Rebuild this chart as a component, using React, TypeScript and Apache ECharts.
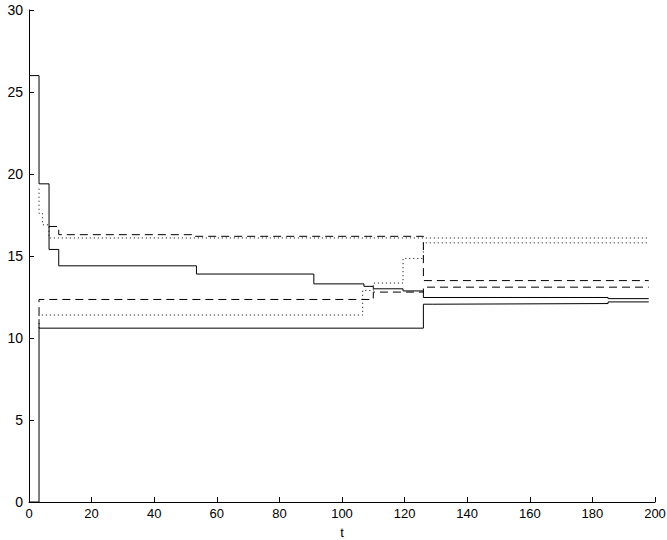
import React, { useEffect, useRef } from "react";
import * as echarts from "echarts";

// Step breakpoints: value v[i] holds from t[i] until t[i+1]
const upperSolidT = [0, 3.2, 6.4, 9.5, 53.5, 91, 107, 110, 119.5, 126, 185, 198];
const upperSolidV = [26, 19.4, 15.4, 14.4, 13.9, 13.3, 13.15, 13.0, 12.87, 12.47, 12.4, 12.4];

const upperDottedT = [3.2, 3.2, 4.3, 6.4, 198];
const upperDottedV = [19.1, 17.6, 16.9, 16.1, 16.1];

const upperDashedT = [6.4, 9.5, 53, 126, 198];
const upperDashedV = [16.8, 16.3, 16.2, 13.5, 13.5];

const lowerSolidT = [0, 3.2, 126, 129, 185, 198];
const lowerSolidV = [0, 10.6, 12.06, 12.1, 12.2, 12.2];

const lowerDottedT = [3.2, 3.2, 106.6, 110, 119.5, 126, 198];
const lowerDottedV = [10.6, 11.4, 12.9, 13.35, 14.85, 15.8, 15.8];

const lowerDashedT = [3.2, 3.2, 110, 126, 198];
const lowerDashedV = [10.6, 12.35, 12.8, 13.1, 13.1];

const xTicks = { min: 0, max: 200, interval: 20 };
const yTicks = { min: 0, max: 30, interval: 5 };
const xName = "t";

const pairs = (t: number[], v: number[]) => t.map((x, i) => [x, v[i]]);

export default function App() {
  const ref = useRef<HTMLDivElement>(null);
  useEffect(() => {
    if (!ref.current) return;
    const chart = echarts.init(ref.current, undefined, { renderer: "svg" });
    const mk = (t: number[], v: number[], type: any) => ({
      type: "line",
      step: "end",
      data: pairs(t, v),
      showSymbol: false,
      symbol: "none",
      lineStyle: { color: "#000", width: 1, type },
      silent: true,
    });
    const font = { fontFamily: "Liberation Sans, Arial, sans-serif", fontSize: 14, color: "#000" };
    chart.setOption({
      animation: false,
      backgroundColor: "#fff",
      grid: { left: 29, right: 12, top: 10, bottom: 38, containLabel: false, outerBoundsMode: "none" },
      graphic: [
        {
          type: "text",
          x: 342,
          y: 532,
          style: {
            text: xName,
            fill: "#000",
            font: "13px Liberation Sans, Arial, sans-serif",
            align: "center",
            verticalAlign: "middle",
          },
        },
      ],
      xAxis: {
        type: "value",
        min: xTicks.min,
        max: xTicks.max,
        interval: xTicks.interval,
        axisLine: { show: true, lineStyle: { color: "#000", width: 1 } },
        axisTick: { show: true, inside: true, length: 5, lineStyle: { color: "#000" } },
        axisLabel: { ...font, fontSize: 13, margin: 5 },
        splitLine: { show: false },
      },
      yAxis: {
        type: "value",
        min: yTicks.min,
        max: yTicks.max,
        interval: yTicks.interval,
        axisLine: { show: true, lineStyle: { color: "#000", width: 1 } },
        axisTick: { show: true, inside: true, length: 5, lineStyle: { color: "#000" } },
        axisLabel: { ...font, margin: 6 },
        splitLine: { show: false },
      },
      series: [
        mk(upperSolidT, upperSolidV, "solid"),
        mk(upperDottedT, upperDottedV, [1, 3]),
        mk(upperDashedT, upperDashedV, [8, 5]),
        mk(lowerSolidT, lowerSolidV, "solid"),
        mk(lowerDottedT, lowerDottedV, [1, 3]),
        mk(lowerDashedT, lowerDashedV, [8, 5]),
      ],
    });
    return () => chart.dispose();
  }, []);
  return (
    <div
      ref={ref}
      style={{ position: "absolute", left: 0, top: 0, width: 667, height: 540 }}
    />
  );
}
